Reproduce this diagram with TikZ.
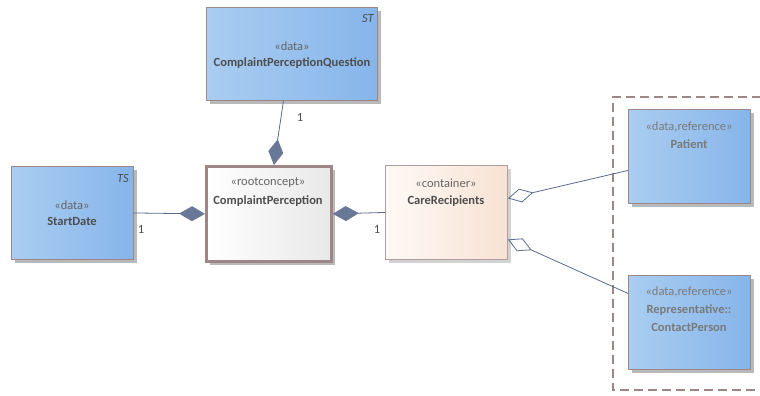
\documentclass[tikz,border=0pt]{standalone}
\usepackage{fontspec}
\setmainfont{Carlito}
\usetikzlibrary{arrows.meta}
\definecolor{bl}{HTML}{AACDF1}
\definecolor{br}{HTML}{86B5EA}
\definecolor{bord}{HTML}{9C8686}
\definecolor{lnk}{HTML}{5C6B8C}
\definecolor{dia}{HTML}{6A7898}
\definecolor{txt}{HTML}{4E4E4E}
\definecolor{ref}{HTML}{7A7A7A}
\definecolor{stereo}{HTML}{666666}
\definecolor{peachl}{HTML}{FEF9F5}
\definecolor{peachr}{HTML}{F8E2D4}
\tikzset{
  box/.style={anchor=north west, inner sep=0pt, draw=bord, line width=0.9pt,
    minimum width=#1, align=center, text=txt},
  databox/.style={box=#1, left color=bl, right color=br},
  link/.style={draw=lnk, line width=0.8pt},
  comp/.style={link, {Diamond[length=26pt,width=15pt,fill=dia,color=dia]}-},
  aggr/.style={link, {Diamond[length=26pt,width=14pt,fill=white,open]}-},
  lab/.style={font=\fontsize{12.5}{14}\selectfont, text=txt, inner sep=0pt},
  nametext/.style={font=\fontsize{12.5}{14}\selectfont\bfseries, text=txt, inner sep=0pt},
  corner/.style={font=\fontsize{12.5}{14}\selectfont\itshape, text=txt, inner sep=0pt}
}
\begin{document}
\begin{tikzpicture}[x=1pt,y=-1pt]
\useasboundingbox (0,0) rectangle (760,396);
% shadows
\fill[gray!55] (210,11) rectangle (381,104);
\fill[gray!55] (15,170) rectangle (137,263);
\fill[gray!55] (210,170) rectangle (335,265);
\fill[gray!35] (389,169) rectangle (511,263);
\fill[gray!55] (632,113) rectangle (754,207);
\fill[gray!55] (632,279) rectangle (754,373);
% boxes
\node[databox=171pt, minimum height=93pt] (cpq) at (206,7) {};
\node[databox=122pt, minimum height=93pt] (sd) at (11,166) {};
\node[box=125pt, minimum height=95pt, line width=2.8pt, left color=white, right color=gray!18] (cp) at (205,165) {};
\node[box=122pt, minimum height=94pt, draw=bord!80, left color=peachl, right color=peachr] (cr) at (385,165) {};
\node[databox=122pt, minimum height=94pt] (pat) at (628,109) {};
\node[databox=122pt, minimum height=94pt] (con) at (628,275) {};
% texts
\node[lab, text=stereo] (t1) at (292,46) {«data»};
\node[nametext] (t2) at (292,63) {ComplaintPerceptionQuestion};
\node[corner, anchor=east] (t3) at (374,18) {ST};
\node[lab, text=stereo] (t4) at (72,205) {«data»};
\node[nametext] (t5) at (72,221) {StartDate};
\node[corner, anchor=east] (t6) at (129,178) {TS};
\node[lab, text=stereo] (t7) at (268,183) {«rootconcept»};
\node[nametext] (t8) at (268,201) {ComplaintPerception};
\node[lab, text=stereo] (t9) at (446,183) {«container»};
\node[nametext] (t10) at (446,201) {CareRecipients};
\node[lab, text=ref] (t11) at (689,127) {«data,reference»};
\node[nametext, text=ref] (t12) at (689,144) {Patient};
\node[lab, text=ref] (t13) at (689,292) {«data,reference»};
\node[nametext, text=ref] (t14) at (689,310) {Representative::};
\node[nametext, text=ref] (t15) at (689,327) {ContactPerson};
% dashed package outline
\draw[draw=bord, line width=2.4pt, dash pattern=on 9pt off 5pt] (775,97) -- (613,97) -- (613,390) -- (775,390);
% connectors
\draw[comp] ([xshift=5pt]cp.north) -- ([xshift=-8.5pt]cpq.south);
\draw[comp] (cp.west) -- (sd.east);
\draw[comp] (cp.east) -- (cr.west);
\draw[aggr] ([yshift=14pt]cr.east) -- ([yshift=-14pt]pat.west);
\draw[aggr] ([yshift=-27pt]cr.east) -- ([yshift=29pt]con.west);
% multiplicities
\node[lab] (m1) at (300,117) {1};
\node[lab] (m2) at (141,229) {1};
\node[lab] (m3) at (377,229) {1};
\end{tikzpicture}
\end{document}
